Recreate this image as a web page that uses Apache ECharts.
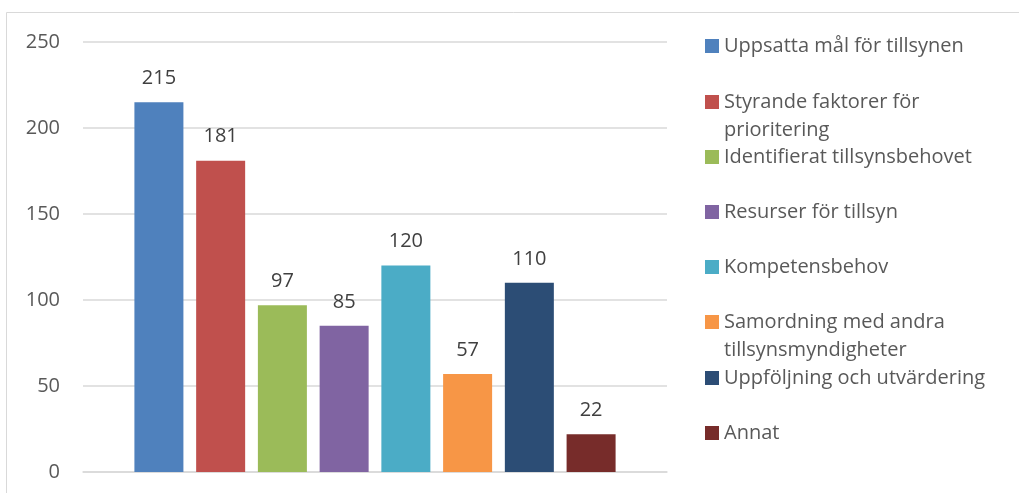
<!DOCTYPE html>
<html>
<head>
<meta charset="utf-8">
<script src="https://cdn.jsdelivr.net/npm/echarts@6/dist/echarts.min.js"></script>
<style>
html,body{margin:0;padding:0;background:#fff;}
#c{width:1019px;height:493px;}
</style>
</head>
<body>
<div id="c"></div>
<script>
const categories = [''];
const seriesNames = [
  'Uppsatta mål för tillsynen',
  'Styrande faktorer för\nprioritering',
  'Identifierat tillsynsbehovet',
  'Resurser för tillsyn',
  'Kompetensbehov',
  'Samordning med andra\ntillsynsmyndigheter',
  'Uppföljning och utvärdering',
  'Annat'
];
const seriesValues = [215, 181, 97, 85, 120, 57, 110, 22];
const seriesColors = ['#4F81BD', '#C0504D', '#9BBB59', '#8064A2', '#4BACC6', '#F79646', '#2C4D75', '#772C2A'];
const yTicks = { min: 0, max: 250, interval: 50 };

const FONT = 'Open Sans';
const chart = echarts.init(document.getElementById('c'));

const legendCenters = [46, 102, 157, 212, 267, 322, 378, 433];
const legends = seriesNames.map((name, i) => {
  const multi = name.indexOf('\n') >= 0;
  const lh = 28;
  const text = multi ? '\n' + name : name;
  const nLines = text.split('\n').length;
  return {
    data: [name],
    orient: 'vertical',
    left: 705,
    top: legendCenters[i] - (nLines * lh) / 2,
    padding: 0,
    icon: 'rect',
    itemWidth: 14,
    itemHeight: 14,
    selectedMode: false,
    formatter: multi ? (n) => '\n' + n : undefined,
    textStyle: { fontFamily: FONT, fontSize: 20, color: '#595959', lineHeight: lh }
  };
});

const series = seriesNames.map((name, i) => ({
  name: name,
  type: 'bar',
  data: [seriesValues[i]],
  barWidth: 49,
  barGap: '26%',
  itemStyle: { color: seriesColors[i] },
  label: {
    show: true,
    position: 'top',
    distance: 14,
    fontFamily: FONT,
    fontSize: 20,
    color: '#404040'
  }
}));

chart.setOption({
  animation: false,
  backgroundColor: '#fff',
  graphic: [{
    type: 'rect',
    shape: { x: 6.5, y: 12.5, width: 1200, height: 700 },
    style: { fill: 'none', stroke: '#d9d9d9', lineWidth: 1 },
    silent: true, z: -1
  }],
  legend: legends,
  grid: { left: 83, right: 352, top: 42, bottom: 21, containLabel: false },
  xAxis: {
    type: 'category',
    data: categories,
    axisLine: { show: true, lineStyle: { color: '#d9d9d9', width: 1.5 } },
    axisTick: { show: false },
    axisLabel: { show: false }
  },
  yAxis: {
    type: 'value',
    min: yTicks.min,
    max: yTicks.max,
    interval: yTicks.interval,
    axisLine: { show: false },
    axisTick: { show: false },
    splitLine: { lineStyle: { color: '#d9d9d9', width: 1.5 } },
    axisLabel: { margin: 23, fontFamily: FONT, fontSize: 20, color: '#595959' }
  },
  series: series
});
</script>
</body>
</html>
